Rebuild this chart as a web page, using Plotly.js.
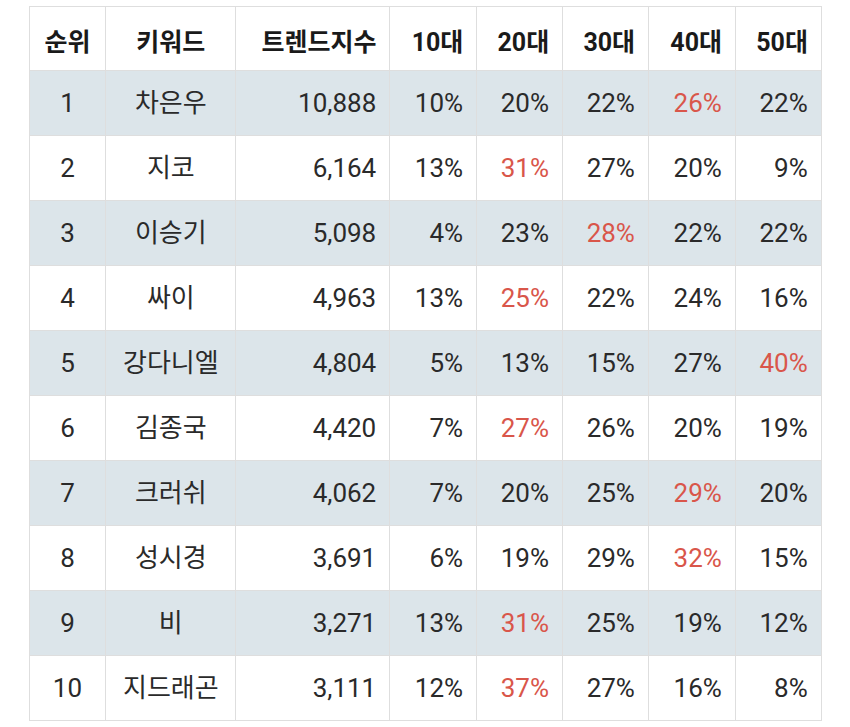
<!DOCTYPE html>
<html><head><meta charset="utf-8">
<script src="https://cdn.plot.ly/plotly-3.0.1.min.js"></script>
<style>body{margin:0;background:#fff}#chart{width:850px;height:727px}</style>
</head><body><div id="chart"></div>
<script>
const headers = ['순위','키워드','트렌드지수','10대','20대','30대','40대','50대'];
const ranks = [1,2,3,4,5,6,7,8,9,10];
const keywords = ['차은우','지코','이승기','싸이','강다니엘','김종국','크러쉬','성시경','비','지드래곤'];
const trend = [10888,6164,5098,4963,4804,4420,4062,3691,3271,3111];
const age10 = [10,13,4,13,5,7,7,6,13,12];
const age20 = [20,31,23,25,13,27,20,19,31,37];
const age30 = [22,27,28,22,15,26,25,29,25,27];
const age40 = [26,20,22,24,27,20,29,32,19,16];
const age50 = [22,9,22,16,40,19,20,15,12,8];

const ageCols = [age10,age20,age30,age40,age50];
const dark = '#2a2a2a', red = '#d9564a';
const pad = '\u2009';
const rowFill = ranks.map((r,i)=> i%2===0 ? '#dce5ea' : '#ffffff');
const maxIdx = ranks.map((r,i)=>{ let m=-1,k=0; ageCols.forEach((c,j)=>{ if(c[i]>m){m=c[i];k=j;} }); return k; });
const ageColors = ageCols.map((c,j)=> ranks.map((r,i)=> maxIdx[i]===j ? red : dark));
const plainColor = ranks.map(()=>dark);

const W=850,H=727;
const font = 'Roboto, "Noto Sans CJK KR", sans-serif';
const trace = {
  type:'table',
  domain:{x:[29/W,822/W], y:[1-721/H, 1-6/H]},
  columnwidth:[77,130,154,87,86,86,87,86],
  header:{
    values: headers.map((h,i)=>'<b>'+h+'</b>'+(i>=2?pad:'')),
    align:['center','center','right','right','right','right','right','right'],
    height:64,
    fill:{color:'#ffffff'},
    line:{color:'#dedede', width:1},
    font:{family:font, size:25, color:'#1a1a1a'}
  },
  cells:{
    values:[ranks, keywords, trend, age10, age20, age30, age40, age50],
    format:['','',',d','','','','',''],
    suffix:['','',pad,'%'+pad,'%'+pad,'%'+pad,'%'+pad,'%'+pad],
    align:['center','center','right','right','right','right','right','right'],
    height:65,
    fill:{color:[rowFill]},
    line:{color:'#dedede', width:1},
    font:{family:font, size:26, color:[plainColor, plainColor, plainColor].concat(ageColors)}
  }
};
Plotly.newPlot('chart',[trace],{width:W,height:H,margin:{l:0,r:0,t:0,b:0},paper_bgcolor:'#fff'},{displayModeBar:false,staticPlot:true}).then(gd=>{
  gd.querySelectorAll('.cell-text').forEach(t=>{
    const old = t.getAttribute('transform') || '';
    t.setAttribute('transform', old + ' translate(0,14)');
  });
});
</script></body></html>
